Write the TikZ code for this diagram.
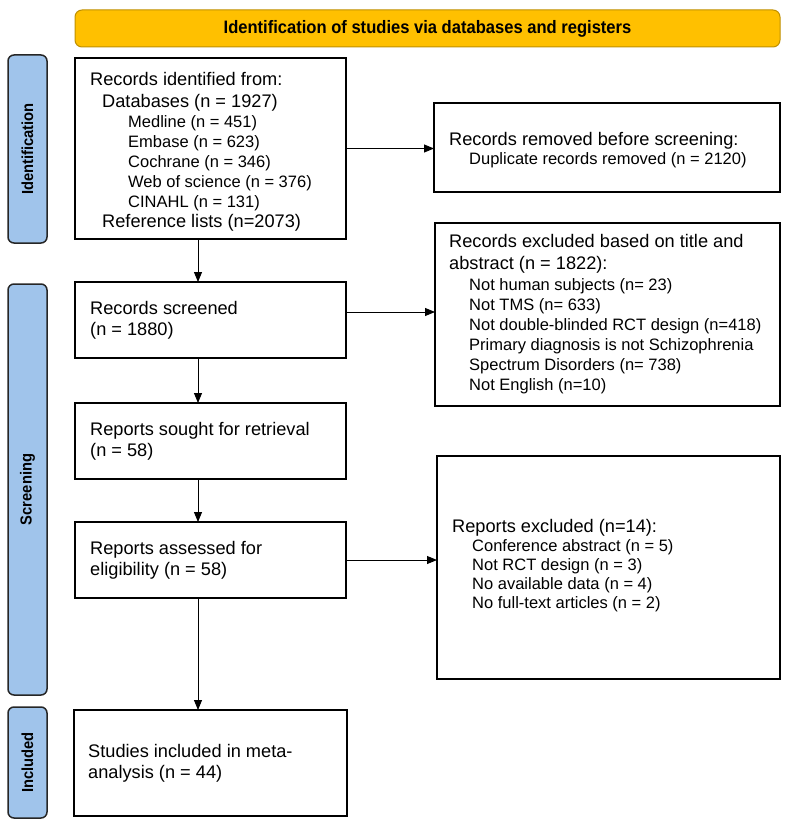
\documentclass[tikz,border=0pt]{standalone}
\usepackage{fontspec}
\setmainfont{Liberation Sans}
\newfontfamily\hdrfont[FakeStretch=0.92]{Liberation Sans}
\usetikzlibrary{arrows.meta}
\definecolor{bannerfill}{RGB}{255,192,0}
\definecolor{bannerdraw}{RGB}{191,144,0}
\definecolor{barblue}{RGB}{160,196,235}
\newcommand{\subf}{\fontsize{16.5}{20}\selectfont}
\begin{document}
\begin{tikzpicture}[x=1pt,y=-1pt,
  pbox/.style={draw, line width=1.6pt, inner sep=0pt, outer sep=0pt},
  ptext/.style={anchor=west, align=left, inner sep=0pt, font=\fontsize{18.2}{20}\selectfont},
  phase/.style={draw=black!85, line width=1.5pt, fill=barblue, rounded corners=6pt, inner sep=0pt, outer sep=0pt},
  phasetext/.style={rotate=90, font=\hdrfont\bfseries\fontsize{16}{18}\selectfont, inner sep=0pt},
  banner/.style={draw=bannerdraw, line width=1pt, fill=bannerfill, rounded corners=7pt, inner sep=0pt, font=\hdrfont\bfseries\fontsize{18}{20}\selectfont},
  flow/.style={line width=0.9pt, -{Triangle[length=10pt,width=8pt]}}
]
\useasboundingbox (0,0) rectangle (792,824);

% banner
\node[banner, minimum width=705pt, minimum height=37pt] (ban) at (427.5,28.5) {Identification of studies via databases and registers};

% phase bars
\node[phase, minimum width=39pt, minimum height=188pt] (pid) at (27.5,149) {};
\node[phasetext] (pidt) at (pid.center) {Identification};
\node[phase, minimum width=39pt, minimum height=411pt] (psc) at (27.5,489.5) {};
\node[phasetext] (psct) at (psc.center) {Screening};
\node[phase, minimum width=39pt, minimum height=111pt] (pin) at (27.5,762.5) {};
\node[phasetext] (pint) at (pin.center) {Included};

% boxes
\node[pbox, minimum width=271pt, minimum height=181pt] (b1) at (210.5,148.5) {};
\node[ptext] (b1t) at ([xshift=15pt,yshift=-3pt]b1.west) {Records identified from:\\[2pt]
\hspace*{12pt}Databases (n = 1927)\\
{\subf\hspace*{38pt}Medline (n = 451)}\\
{\subf\hspace*{38pt}Embase (n = 623)}\\
{\subf\hspace*{38pt}Cochrane (n = 346)}\\
{\subf\hspace*{38pt}Web of science (n = 376)}\\
{\subf\hspace*{38pt}CINAHL (n = 131)}\\
\hspace*{12pt}Reference lists (n=2073)};

\node[pbox, minimum width=346pt, minimum height=89pt] (rem) at (607,147.5) {};
\node[ptext] (remt) at ([xshift=15pt,yshift=-3pt]rem.west) {Records removed before screening:\\[-1pt]
{\subf\hspace*{20pt}Duplicate records removed (n = 2120)}};

\node[pbox, minimum width=271pt, minimum height=76pt] (scr) at (210.5,320) {};
\node[ptext] (scrt) at ([xshift=15pt]scr.west) {Records screened\\[1pt](n = 1880)};

\node[pbox, minimum width=345pt, minimum height=183pt] (exc1) at (607.5,314.5) {};
\node[ptext] (exc1t) at ([xshift=14pt]exc1.west) {Records excluded based on title and\\[2pt]
abstract (n = 1822):\\[1pt]
{\subf\hspace*{20pt}Not human subjects (n= 23)}\\
{\subf\hspace*{20pt}Not TMS (n= 633)}\\
{\subf\hspace*{20pt}Not double-blinded RCT design (n=418)}\\
{\subf\hspace*{20pt}Primary diagnosis is not Schizophrenia}\\
{\subf\hspace*{20pt}Spectrum Disorders (n= 738)}\\
{\subf\hspace*{20pt}Not English (n=10)}};

\node[pbox, minimum width=271pt, minimum height=76pt] (sou) at (210.5,441) {};
\node[ptext] (sout) at ([xshift=15pt]sou.west) {Reports sought for retrieval\\[1pt](n = 58)};

\node[pbox, minimum width=343pt, minimum height=223pt] (exc2) at (608.5,567.5) {};
\node[ptext] (exc2t) at ([xshift=15pt,yshift=2pt]exc2.west) {Reports excluded (n=14):\\[-1pt]
{\subf\hspace*{20pt}Conference abstract (n = 5)}\\[-1pt]
{\subf\hspace*{20pt}Not RCT design (n = 3)}\\[-1pt]
{\subf\hspace*{20pt}No available data (n = 4)}\\[-1pt]
{\subf\hspace*{20pt}No full-text articles (n = 2)}};

\node[pbox, minimum width=271pt, minimum height=76pt] (ass) at (210.5,560) {};
\node[ptext] (asst) at ([xshift=15pt]ass.west) {Reports assessed for\\[1pt]eligibility (n = 58)};

\node[pbox, minimum width=273pt, minimum height=106pt] (stu) at (210.5,763) {};
\node[ptext] (stut) at ([xshift=14pt]stu.west) {Studies included in meta-\\[1pt]analysis (n = 44)};

% connectors
\draw[flow] (b1.east) -- (b1.east -| rem.west);
\draw[flow] ([xshift=-12.5pt]b1.south) -- ([xshift=-12.5pt]scr.north);
\draw[flow] ([yshift=8pt]scr.east) -- ([yshift=8pt]scr.east -| exc1.west);
\draw[flow] ([xshift=-12.5pt]scr.south) -- ([xshift=-12.5pt]sou.north);
\draw[flow] ([xshift=-12.5pt]sou.south) -- ([xshift=-12.5pt]ass.north);
\draw[flow] (ass.east) -- (ass.east -| exc2.west);
\draw[flow] ([xshift=-12.5pt]ass.south) -- ([xshift=-12.5pt]stu.north);
\end{tikzpicture}
\end{document}
